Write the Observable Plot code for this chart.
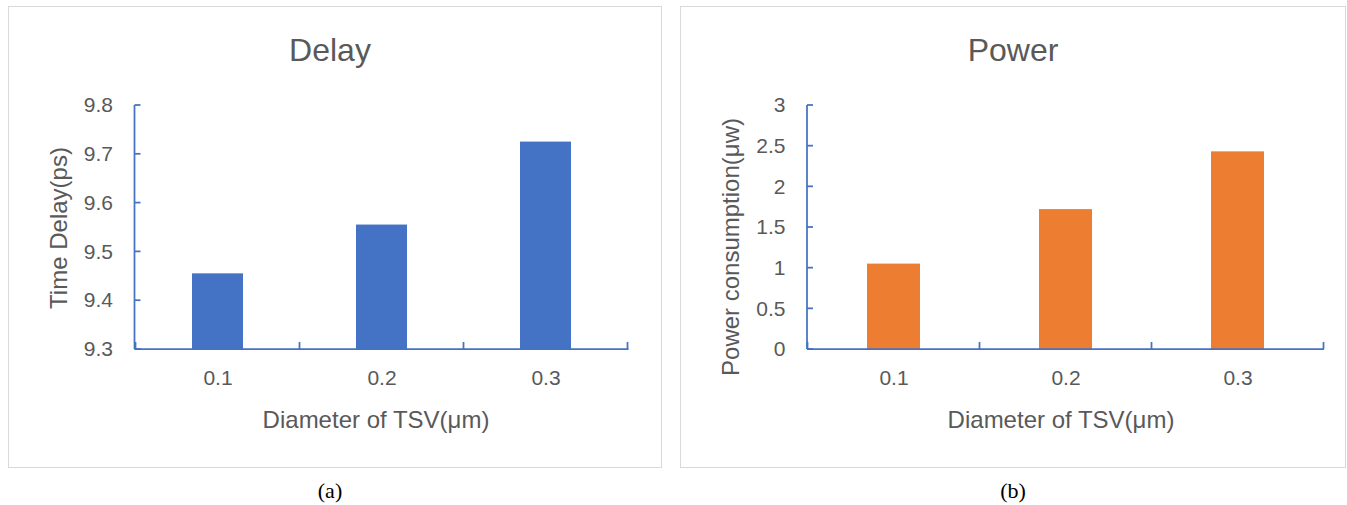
<!DOCTYPE html>
<html>
<head>
<meta charset="utf-8">
<script src="https://cdn.jsdelivr.net/npm/d3@7"></script>
<script src="https://cdn.jsdelivr.net/npm/@observablehq/plot@0.6"></script>
<style>
  html, body { margin: 0; padding: 0; background: #fff; }
  body { width: 1347px; height: 505px; position: relative; overflow: hidden; font-family: "Liberation Sans", Arial, sans-serif; color: #595959; }
  .frame { position: absolute; box-sizing: border-box; border: 1.5px solid #d9d9d9; }
  .chart { position: absolute; }
  .t { position: absolute; white-space: nowrap; transform: translate(-50%, -50%); line-height: 1; }
  .title { font-size: 32px; }
  .axt { font-size: 24px; }
  .yt { font-size: 24px; transform: translate(-50%, -50%) rotate(-90deg); }
  .cap { font-family: "Liberation Serif", "Times New Roman", serif; font-size: 22px; color: #000; }
</style>
</head>
<body>
<div class="frame" style="left:8px;top:6px;width:654px;height:462px"></div>
<div class="frame" style="left:680px;top:6px;width:666px;height:462px"></div>
<div id="chartA" class="chart" style="left:8px;top:6px"></div>
<div id="chartB" class="chart" style="left:680px;top:6px"></div>
<div class="t title" style="left:330px;top:50px">Delay</div>
<div class="t title" style="left:1013px;top:50px">Power</div>
<div class="t axt" style="left:376px;top:420px">Diameter of TSV(μm)</div>
<div class="t axt" style="left:1061px;top:420px">Diameter of TSV(μm)</div>
<div class="t yt" style="left:59px;top:228px">Time Delay(ps)</div>
<div class="t yt" style="left:731px;top:247px">Power consumption(μw)</div>
<div class="t cap" style="left:330px;top:491px">(a)</div>
<div class="t cap" style="left:1013px;top:491px">(b)</div>
<script>
// ---- data ----
const diameters = ["0.1", "0.2", "0.3"];
const delayValues = [9.455, 9.555, 9.725];
const powerValues = [1.05, 1.72, 2.43];
const delayTicks = [9.3, 9.4, 9.5, 9.6, 9.7, 9.8];
const powerTicks = [0, 0.5, 1, 1.5, 2, 2.5, 3];

const AXIS_COLOR = "#4472C4";
const TEXT_COLOR = "#595959";

function axisDecor(ticks) {
  return (index, scales, values, dims) => {
    const x = scales.x, y = scales.y;
    const {width, marginLeft, marginRight} = dims;
    const left = marginLeft, right = width - marginRight;
    const bottom = y(ticks[0]), top = y(ticks[ticks.length - 1]);
    const g = d3.create("svg:g")
      .attr("stroke", AXIS_COLOR).attr("stroke-width", 1.75).attr("fill", "none");
    g.append("line").attr("x1", left).attr("x2", left).attr("y1", top).attr("y2", bottom);
    g.append("line").attr("x1", left).attr("x2", right).attr("y1", bottom).attr("y2", bottom);
    for (const t of ticks) {
      g.append("line").attr("x1", left).attr("x2", left + 6).attr("y1", y(t)).attr("y2", y(t));
    }
    const bw = typeof x.bandwidth === "function" ? x.bandwidth() : x.bandwidth;
    const step = typeof x.step === "function" ? x.step() : (right - left) / diameters.length;
    const gap = (step - bw) / 2;
    const bounds = diameters.map(c => x(c) - gap);
    bounds.push(x(diameters[diameters.length - 1]) + bw + gap);
    for (const b of bounds) {
      g.append("line").attr("x1", b).attr("x2", b).attr("y1", bottom).attr("y2", bottom - 7);
    }
    return g.node();
  };
}

function makeChart({values, ticks, fill, width, height, marginLeft, marginRight, marginTop, marginBottom, fmt}) {
  const data = diameters.map((d, i) => ({d, v: values[i]}));
  const yMin = ticks[0];
  return Plot.plot({
    width, height, marginLeft, marginRight, marginTop, marginBottom,
    style: {fontFamily: '"Liberation Sans", Arial, sans-serif', fontSize: "21px", color: TEXT_COLOR, background: "transparent", overflow: "visible"},
    x: {type: "band", domain: diameters, paddingInner: 0.69, paddingOuter: 0.345, align: 0.5},
    y: {domain: [ticks[0], ticks[ticks.length - 1]]},
    marks: [
      Plot.barY(data, {x: "d", y1: () => yMin, y2: "v", fill}),
      Plot.axisY({ticks, tickSize: 0, tickPadding: 22, tickFormat: fmt, fill: TEXT_COLOR, fontSize: 21, label: null}),
      Plot.axisX({tickSize: 0, tickPadding: 21, fill: TEXT_COLOR, fontSize: 21, label: null}),
      axisDecor(ticks)
    ]
  });
}

document.getElementById("chartA").append(makeChart({
  values: delayValues, ticks: delayTicks, fill: "#4472C4",
  width: 654, height: 462, marginLeft: 126.5, marginRight: 33.5, marginTop: 99, marginBottom: 119,
  fmt: d3.format(".1f")
}));
document.getElementById("chartB").append(makeChart({
  values: powerValues, ticks: powerTicks, fill: "#ED7D31",
  width: 666, height: 462, marginLeft: 127, marginRight: 22, marginTop: 99, marginBottom: 119,
  fmt: d => `${d}`
}));
</script>
</body>
</html>
